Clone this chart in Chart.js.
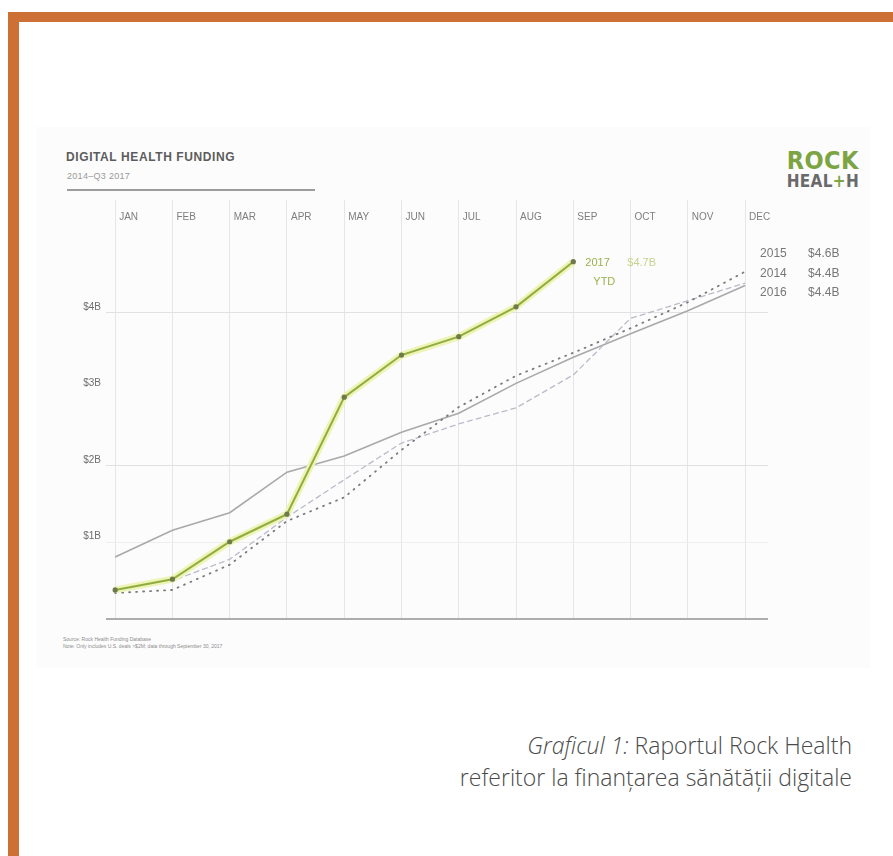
<html lang="ro">
<head>
  <meta charset="UTF-8">
  <title>Digital Health Funding</title>
  <script src="https://cdn.jsdelivr.net/npm/chart.js"></script>
  <style>
    body { margin: 0; width: 893px; height: 856px; background: #fff; position: relative; overflow: hidden; font-family: "Liberation Sans", Arial, sans-serif; }
    .frame-top { position: absolute; left: 8px; top: 12px; width: 885px; height: 10px; background: #cd7035; }
    .frame-left { position: absolute; left: 8px; top: 12px; width: 11px; height: 844px; background: #cd7035; }
    .sheet { position: absolute; left: 36px; top: 127px; width: 834px; height: 541px; background: #fcfcfc; }
    .title { position: absolute; left: 66px; top: 150px; font-size: 12px; font-weight: bold; letter-spacing: 0.6px; color: #5c5c5c; }
    .subtitle { position: absolute; left: 67px; top: 171px; font-size: 9px; color: #9a9a9a; letter-spacing: 0.3px; }
    .rule { position: absolute; left: 67px; top: 189px; width: 248px; height: 2px; background: #9c9c9c; }
    .logo { position: absolute; left: 781px; top: 148px; font-family: "DejaVu Sans Condensed", "DejaVu Sans", sans-serif; font-weight: bold; font-stretch: condensed; line-height: 1; text-align: right; width: 78px; }
    .logo .rock { font-size: 25px; color: #7da443; letter-spacing: 0.5px; }
    .logo .health { font-size: 17px; color: #6a6a6a; letter-spacing: 0.3px; }
    .logo .plus { color: #7da443; }
    .notes { position: absolute; left: 63px; top: 636px; font-size: 5px; line-height: 7px; color: #8c8c8c; }
    .caption { position: absolute; right: 41px; top: 729px; text-align: right; font-family: "Open Sans", sans-serif; font-weight: 300; font-size: 23px; line-height: 32px; color: #4a4a4a; }
    #chartWrap { position: absolute; left: 40px; top: 195px; width: 830px; height: 440px; }
  </style>
</head>
<body>
  <div class="frame-top"></div>
  <div class="frame-left"></div>
  <div class="sheet"></div>
  <div class="title">DIGITAL HEALTH FUNDING</div>
  <div class="subtitle">2014–Q3 2017</div>
  <div class="rule"></div>
  <div class="logo"><div class="rock">ROCK</div><div class="health">HEAL<span class="plus">+</span>H</div></div>
  <div class="notes">Source: Rock Health Funding Database<br>Note: Only includes U.S. deals &gt;$2M; data through September 30, 2017</div>
  <div class="caption"><i>Graficul 1:</i> Raportul Rock Health<br>referitor la finanțarea sănătății digitale</div>

  <div id="chartWrap"><canvas id="chartFunding" width="830" height="440"></canvas></div>

  <script>
    // data, cumulative funding in $B
    const months = ['JAN', 'FEB', 'MAR', 'APR', 'MAY', 'JUN', 'JUL', 'AUG', 'SEP', 'OCT', 'NOV', 'DEC'];
    const yTickLabels = ['', '$1B', '$2B', '$3B', '$4B', ''];
    const funding2017 = [0.38, 0.52, 1.01, 1.37, 2.90, 3.45, 3.69, 4.08, 4.67];
    const funding2016 = [0.81, 1.16, 1.39, 1.92, 2.13, 2.44, 2.69, 3.08, 3.42, 3.73, 4.03, 4.36];
    const funding2014 = [0.35, 0.50, 0.78, 1.33, 1.82, 2.30, 2.55, 2.76, 3.19, 3.93, 4.16, 4.39];
    const funding2015 = [0.34, 0.38, 0.71, 1.28, 1.59, 2.21, 2.77, 3.18, 3.48, 3.80, 4.14, 4.54];
    const endLabels = [['2015', '$4.6B'], ['2014', '$4.4B'], ['2016', '$4.4B']];
    const ytdLabel = ['2017', 'YTD', '$4.7B'];

    const toPoints = arr => arr.map((v, i) => ({ x: i, y: v }));

    // text next to the lines
    const labelsPlugin = {
      id: 'sideLabels',
      afterDraw(chart) {
        const { ctx, scales, chartArea } = chart;
        const xDec = scales.x.getPixelForValue(11);
        ctx.save();
        ctx.textBaseline = 'middle';
        ctx.font = '12px "Liberation Sans", Arial, sans-serif';
        ctx.fillStyle = '#777';
        endLabels.forEach((row, i) => {
          const y = chartArea.top + 29 + i * 19.5;
          ctx.fillText(row[0], xDec + 15, y);
          ctx.fillText(row[1], xDec + 63, y);
        });
        // 2017 YTD next to the last point
        const last = funding2017.length - 1;
        const px = scales.x.getPixelForValue(last);
        const py = scales.y.getPixelForValue(funding2017[last]);
        ctx.font = '11px "Liberation Sans", Arial, sans-serif';
        ctx.fillStyle = '#9ab14c';
        ctx.fillText(ytdLabel[0], px + 12, py + 1);
        ctx.textAlign = 'center';
        ctx.fillText(ytdLabel[1], px + 31, py + 20);
        ctx.textAlign = 'left';
        ctx.fillStyle = '#c6d48f';
        ctx.fillText(ytdLabel[2], px + 54, py + 1);
        ctx.restore();
      }
    };

    const ctxFunding = document.getElementById('chartFunding');
    const fundingChart = new Chart(ctxFunding, {
      type: 'line',
      data: {
        datasets: [{
          label: '2017',
          data: toPoints(funding2017),
          borderColor: '#90ad3f',
          borderWidth: 2,
          pointRadius: 2.6,
          pointBackgroundColor: '#6e7a4c',
          pointBorderWidth: 0
        }, {
          label: '2017 glow',
          data: toPoints(funding2017),
          borderColor: '#eef3b6',
          borderWidth: 7,
          pointRadius: 0
        }, {
          label: '2015',
          data: toPoints(funding2015),
          borderColor: '#7a7a7a',
          borderWidth: 1.8,
          borderDash: [1, 6],
          borderCapStyle: 'round',
          pointRadius: 0
        }, {
          label: '2014',
          data: toPoints(funding2014),
          borderColor: '#b9bcca',
          borderWidth: 1.3,
          borderDash: [6, 3],
          pointRadius: 0
        }, {
          label: '2016',
          data: toPoints(funding2016),
          borderColor: '#a9a9a9',
          borderWidth: 1.6,
          pointRadius: 0
        }]
      },
      options: {
        responsive: false,
        animation: false,
        layout: { padding: { left: 0, right: 102, top: 0, bottom: 16 } },
        elements: { line: { tension: 0 } },
        scales: {
          x: {
            type: 'linear',
            position: 'top',
            min: -0.16,
            max: 11.40,
            afterFit(scale) { scale.height = 30; },
            border: { display: false },
            grid: { color: '#e6e6e6', tickColor: '#e6e6e6', tickLength: 25, lineWidth: 1 },
            ticks: {
              stepSize: 1,
              includeBounds: false,
              autoSkip: false,
              maxRotation: 0,
              align: 'start',
              labelOffset: 4,
              padding: -23,
              color: '#7e7e7e',
              font: { size: 10, family: '"Liberation Sans", Arial, sans-serif' },
              callback: v => months[v] ?? ''
            }
          },
          y: {
            min: 0,
            max: 5.15,
            afterFit(scale) { scale.width = 66; },
            border: { display: false },
            grid: {
              drawTicks: false,
              color: c => ['#adadad', '#eeeeee', '#e1e1e1', 'rgba(0,0,0,0)', '#e1e1e1', 'rgba(0,0,0,0)'][c.tick.value] ?? 'rgba(0,0,0,0)',
              lineWidth: c => c.tick.value === 0 ? 2 : 1
            },
            ticks: {
              stepSize: 1,
              includeBounds: false,
              padding: 5,
              labelOffset: -6,
              color: '#6e6e6e',
              font: { size: 10, family: '"Liberation Sans", Arial, sans-serif' },
              callback: v => yTickLabels[v] ?? ''
            }
          }
        },
        plugins: {
          legend: { display: false },
          tooltip: { enabled: false }
        }
      },
      plugins: [labelsPlugin]
    });
  </script>
</body>
</html>
